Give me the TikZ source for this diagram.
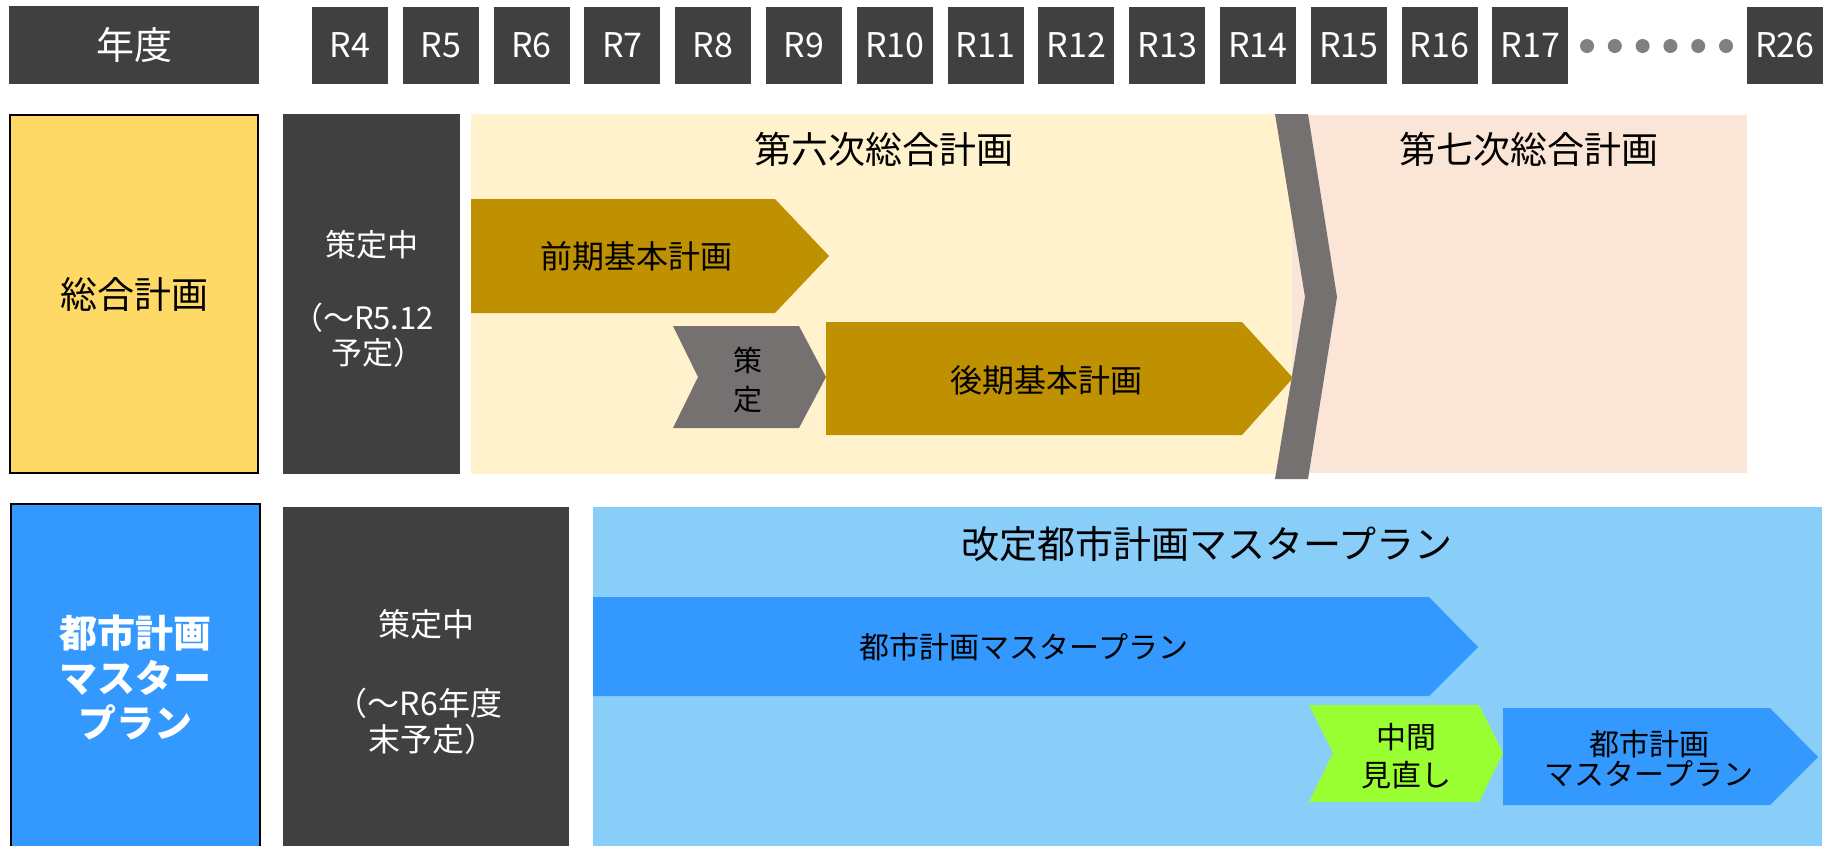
\documentclass[tikz,border=0pt]{standalone}
\usepackage{fontspec}
\setmainfont{Noto Sans CJK JP}
\definecolor{dk}{HTML}{404040}
\definecolor{ylw}{HTML}{FFD966}
\definecolor{lylw}{HTML}{FFF2CC}
\definecolor{pnk}{HTML}{FBE5D6}
\definecolor{gld}{HTML}{BF9000}
\definecolor{gry}{HTML}{767171}
\definecolor{blu}{HTML}{3399FF}
\definecolor{lblu}{HTML}{89CDF9}
\definecolor{grn}{HTML}{99FF33}
\definecolor{dotc}{HTML}{808080}
\newcommand{\fs}[2]{\fontsize{#1}{#2}\selectfont}
\tikzset{
  darkbox/.style={fill=dk, inner sep=0, text=white},
  rbox/.style={darkbox, minimum width=76, minimum height=77, font=\fs{34}{40}},
  lbl/.style={inner sep=0, align=center},
  dotnode/.style={circle, fill=dotc, inner sep=0, minimum size=14},
}
\begin{document}
\begin{tikzpicture}[x=1pt,y=-1pt]
\useasboundingbox (0,0) rectangle (1829,846);
\clip (0,0) rectangle (1829,846);
\fill[white] (0,0) rectangle (1829,846);
% header
\node[darkbox, minimum width=250, minimum height=78, font=\fs{38}{44}] (nendo) at (134,45) {年度};
\foreach \i in {0,...,13}{
  \pgfmathsetmacro{\xx}{350+90.8*\i}
  \pgfmathtruncatemacro{\nn}{\i+4}
  \node[rbox] (r\nn) at (\xx,45.5) {R\nn};
}
\node[rbox] (r26) at (1785,45.5) {R26};
\foreach \k in {0,...,5}{
  \pgfmathsetmacro{\xx}{1587+27.8*\k}
  \node[dotnode] (dot\k) at (\xx,46) {};
}
% row 1
\node[draw=black, line width=2.5, fill=ylw, minimum width=248, minimum height=358, inner sep=0, font=\fs{37}{44}] (sogo) at (134,294) {総合計画};
\node[darkbox, minimum width=177, minimum height=360] (sak1) at (371.5,294) {};
\node[lbl, text=white, font=\fs{31}{36}] (sak1a) at (371.5,245) {策定中};
\node[lbl, text=white, font=\fs{31}{36}] (sak1b) at (363,318) {（～R5.12};
\node[lbl, text=white, font=\fs{31}{36}] (sak1c) at (378,353) {予定）};
\fill[lylw] (471,114) rectangle (1292,474);
\fill[pnk] (1292,115) rectangle (1747,473);
\fill[gry] (1275,114) -- (1308,114) -- (1337,297) -- (1308,479) -- (1275,479) -- (1305,297) -- cycle;
\node[lbl, font=\fs{37}{44}] (six) at (884,149) {第六次総合計画};
\node[lbl, font=\fs{37}{44}] (seven) at (1529,149) {第七次総合計画};
\fill[gld] (471,199) -- (775,199) -- (829,256) -- (775,313) -- (471,313) -- cycle;
\node[lbl, font=\fs{32}{38}] (zenki) at (636,256) {前期基本計画};
\fill[gry] (673,326) -- (799,326) -- (826,377) -- (799,428) -- (673,428) -- (698,377) -- cycle;
\node[lbl, font=\fs{29}{34}] (sa) at (748,360) {策};
\node[lbl, font=\fs{29}{34}] (tei) at (748,400) {定};
\fill[gld] (826,322) -- (1242,322) -- (1293,378) -- (1242,435) -- (826,435) -- cycle;
\node[lbl, font=\fs{32}{38}] (kouki) at (1046,380) {後期基本計画};
% row 2
\node[draw=black, line width=2.5, fill=blu, minimum width=249, minimum height=346, inner sep=0, text=white, align=center, font=\fs{38}{45}\bfseries] (toshi) at (135.5,677) {都市計画\\マスター\\プラン};
\node[darkbox, minimum width=286, minimum height=345] (sak2) at (426,679) {};
\node[lbl, text=white, font=\fs{32}{38}] (sak2a) at (426,624) {策定中};
\node[lbl, text=white, font=\fs{32}{38}] (sak2b) at (419,703) {（～R6年度};
\node[lbl, text=white, font=\fs{32}{38}] (sak2c) at (432,739) {末予定）};
\fill[lblu] (593,507) rectangle (1822,850);
\node[lbl, font=\fs{38}{44}] (kaitei) at (1207,544) {改定都市計画マスタープラン};
\fill[blu] (593,597) -- (1429,597) -- (1478,647) -- (1429,696) -- (593,696) -- cycle;
\node[lbl, font=\fs{30}{36}] (mp1) at (1024,647) {都市計画マスタープラン};
\fill[grn] (1309,705) -- (1479,705) -- (1503,753) -- (1479,802) -- (1309,802) -- (1333,753) -- cycle;
\node[lbl, font=\fs{30}{38}] (chukan) at (1406,756) {中間\\見直し};
\fill[blu] (1503,708) -- (1770,708) -- (1818,757) -- (1770,805) -- (1503,805) -- cycle;
\node[lbl, font=\fs{30}{30}] (mp2) at (1649,758) {都市計画\\マスタープラン};
\end{tikzpicture}
\end{document}
